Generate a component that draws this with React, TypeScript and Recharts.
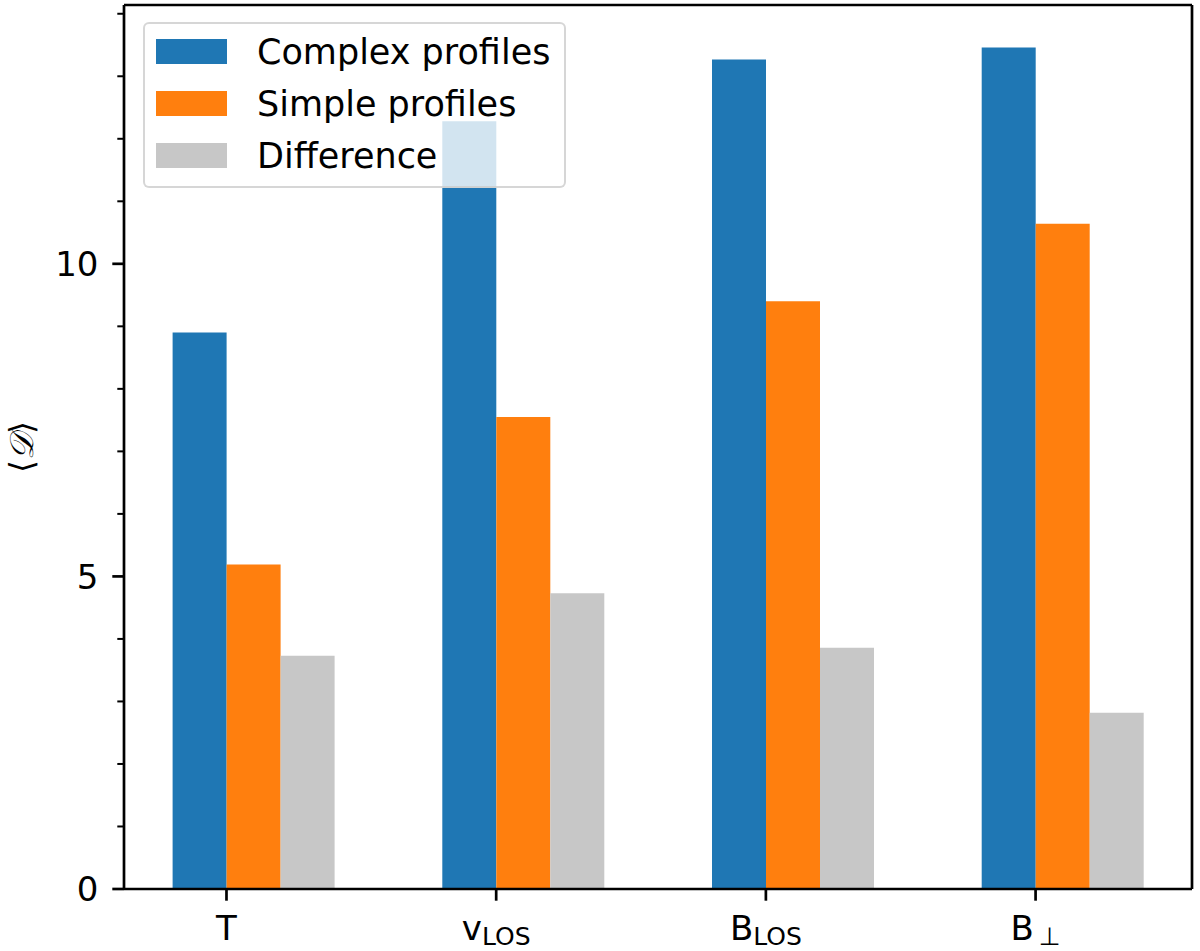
import React from 'react';
import { BarChart, Bar, XAxis, YAxis, Legend, ReferenceLine } from 'recharts';

const categories = ['T', 'vLOS', 'BLOS', 'Bperp'];
const tickMain = ['T', 'v', 'B', 'B'];
const tickSub = ['', 'LOS', 'LOS', '\u2009\u22A5'];
const complexProfiles = [8.9, 12.28, 13.27, 13.46];
const simpleProfiles = [5.19, 7.55, 9.4, 10.64];
const differenceValues = [3.73, 4.73, 3.86, 2.82];
const seriesNames = ['Complex profiles', 'Simple profiles', 'Difference'];
const seriesColors = ['#1f77b4', '#ff7f0e', '#c7c7c7'];
const yTickValues = [0, 1, 2, 3, 4, 5, 6, 7, 8, 9, 10, 11, 12, 13, 14];
const yLabeledTicks = [0, 5, 10];
const xTickValues = [0, 1, 2, 3];
const xDomain = [-0.38, 3.58];
const yDomain = [0, 14.14];

const data = categories.map((name, i) => ({
  x: i,
  name,
  complex: complexProfiles[i],
  simple: simpleProfiles[i],
  difference: differenceValues[i],
}));

const FONT = '"DejaVu Sans", sans-serif';

const YTick = (props: any) => {
  const { x, y, payload } = props;
  const v = payload.value;
  const major = yLabeledTicks.includes(v);
  return (
    <g>
      <line x1={x - (major ? 11.7 : 6.7)} x2={x} y1={y} y2={y} stroke="#000" strokeWidth={major ? 2.7 : 2} />
      {major && (
        <text x={x - 25.5} y={y} dy={12.3} textAnchor="end" fontSize={34} fontFamily={FONT} fill="#000">
          {v}
        </text>
      )}
    </g>
  );
};

const XTick = (props: any) => {
  const { x, y, payload } = props;
  const i = payload.value;
  return (
    <g>
      <line x1={x} x2={x} y1={y} y2={y + 11.7} stroke="#000" strokeWidth={2.7} />
      <text x={x} y={y + 51} textAnchor="middle" fontSize={34} fontFamily={FONT} fill="#000">
        <tspan>{tickMain[i]}</tspan>
        {tickSub[i] ? (
          <tspan fontSize={25} dy={5}>
            {tickSub[i]}
          </tspan>
        ) : null}
      </text>
    </g>
  );
};

const YLabel = (props: any) => {
  const vb = props.viewBox || { x: 0, y: 5, width: 124, height: 884 };
  const cx = vb.x + 21;
  const cy = vb.y + vb.height / 2;
  return (
    <text
      x={cx}
      y={cy}
      transform={`rotate(-90 ${cx} ${cy})`}
      textAnchor="middle"
      dominantBaseline="central"
      fontSize={33}
      fontFamily={FONT}
      fill="#000"
    >
      {'\u27E8'}
      <tspan fontFamily='"DejaVu Serif", serif' fontStyle="italic">
        {'\uD835\uDC9F'}
      </tspan>
      {'\u27E9'}
    </text>
  );
};

const LegendBox = (props: any) => {
  const payload = (props.payload || [])
    .filter((p: any) => p.type !== 'none' && seriesNames.includes(p.value))
    .slice()
    .sort((a: any, b: any) => seriesNames.indexOf(a.value) - seriesNames.indexOf(b.value));
  return (
    <div
      style={{
        boxSizing: 'border-box',
        width: 423,
        height: 166,
        border: '2.7px solid rgba(204,204,204,0.8)',
        borderRadius: 6,
        background: 'rgba(255,255,255,0.8)',
        paddingTop: 1,
        fontFamily: FONT,
        fontSize: 35,
        color: '#000',
      }}
    >
      {payload.map((p: any) => (
        <div key={p.value} style={{ display: 'flex', alignItems: 'center', height: 52 }}>
          <div style={{ width: 70.6, height: 24.7, marginLeft: 11.3, background: p.color, flexShrink: 0 }} />
          <span style={{ marginLeft: 30.4, lineHeight: 1, position: 'relative', top: 1.5, whiteSpace: 'nowrap' }}>
            {p.value}
          </span>
        </div>
      ))}
    </div>
  );
};

const axisLineStyle = { stroke: '#000', strokeWidth: 2.7 };

export default function App() {
  return (
    <div style={{ position: 'absolute', left: 0, top: 0, width: 1200, height: 951, background: '#fff' }}>
      <BarChart
        width={1200}
        height={951}
        data={data}
        margin={{ top: 5, right: 8, bottom: 0, left: 0 }}
        barGap={0}
        barCategoryGap="10%"
      >
        <Bar dataKey="spacer" fill="none" legendType="none" isAnimationActive={false} />
        <Bar dataKey="complex" name={seriesNames[0]} fill={seriesColors[0]} isAnimationActive={false} />
        <Bar dataKey="simple" name={seriesNames[1]} fill={seriesColors[1]} isAnimationActive={false} />
        <Bar dataKey="difference" name={seriesNames[2]} fill={seriesColors[2]} isAnimationActive={false} />
        <ReferenceLine y={yDomain[1]} stroke="#000" strokeWidth={2.7} ifOverflow="visible" />
        <ReferenceLine x={xDomain[1]} stroke="#000" strokeWidth={2.7} ifOverflow="visible" />
        <XAxis
          dataKey="x"
          type="number"
          domain={xDomain}
          allowDataOverflow
          ticks={xTickValues}
          interval={0}
          height={62}
          tickSize={0}
          tickMargin={0}
          tickLine={false}
          axisLine={axisLineStyle}
          tick={<XTick />}
        />
        <YAxis
          type="number"
          domain={yDomain}
          allowDataOverflow
          ticks={yTickValues}
          interval={0}
          width={124}
          tickSize={0}
          tickMargin={0}
          tickLine={false}
          axisLine={axisLineStyle}
          tick={<YTick />}
          label={<YLabel />}
        />
        <Legend
          layout="vertical"
          align="center"
          verticalAlign="middle"
          content={<LegendBox />}
          wrapperStyle={{ left: 142.7, top: 22.3, width: 'auto', height: 'auto' }}
        />
      </BarChart>
    </div>
  );
}
